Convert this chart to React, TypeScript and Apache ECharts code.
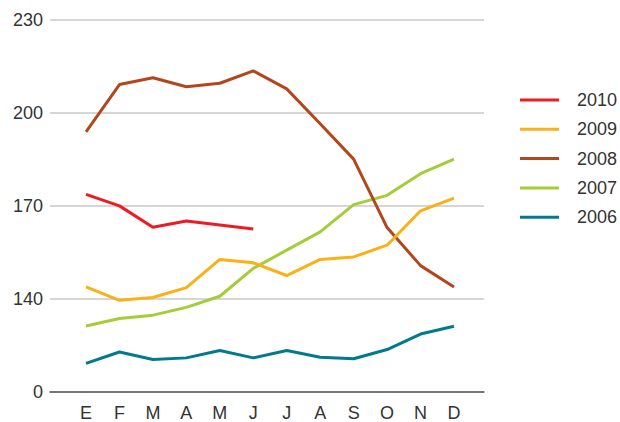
import React, { useEffect, useRef } from "react";
import * as echarts from "echarts";

const months = ["E", "F", "M", "A", "M", "J", "J", "A", "S", "O", "N", "D"];
const yTickLabels = ["0", "140", "170", "200", "230"];
const axisBase = 110; // value shown as "0" (axis break)

const s2010 = [173.5, 169.8, 162.9, 164.9, 163.6, 162.3, null, null, null, null, null, null];
const s2009 = [143.6, 139.3, 140.2, 143.4, 152.5, 151.4, 147.3, 152.5, 153.3, 157.1, 168.2, 172.3];
const s2008 = [193.7, 209.0, 211.2, 208.3, 209.4, 213.4, 207.6, 196.3, 184.9, 162.8, 150.5, 143.6];
const s2007 = [131.0, 133.4, 134.5, 137.0, 140.6, 149.6, 155.5, 161.4, 170.2, 173.2, 180.2, 184.9];
const s2006 = [118.9, 122.6, 120.2, 120.7, 123.1, 120.7, 123.1, 120.9, 120.4, 123.4, 128.4, 130.9];

const seriesNames = ["2010", "2009", "2008", "2007", "2006"];
const seriesData = [s2010, s2009, s2008, s2007, s2006];
const seriesColors = ["#ED1C24", "#FBB017", "#B2461C", "#A5CD39", "#007A8C"];

const FONT = "'Liberation Sans', Arial, sans-serif";

export default function App() {
  const ref = useRef<HTMLDivElement>(null);
  useEffect(() => {
    if (!ref.current) return;
    const chart = echarts.init(ref.current, null, { renderer: "svg" });
    const top = 19.5;
    const bottom = 30;
    chart.setOption({
      animation: false,
      backgroundColor: "#ffffff",
      textStyle: { fontFamily: FONT },
      grid: [
        { left: 50, right: 136, top, bottom },
        { left: 86, right: 166, top, bottom },
      ],
      legend: {
        orient: "vertical",
        left: 520,
        top: 89,
        padding: 0,
        itemWidth: 39,
        itemHeight: 3,
        itemGap: 7.3,
        icon: "rect",
        data: seriesNames,
        textStyle: {
          fontFamily: FONT,
          fontSize: 18,
          color: "#333333",
          lineHeight: 22,
          padding: [0, 0, 0, 13],
        },
      },
      xAxis: [
        {
          gridIndex: 0,
          type: "value",
          min: 0,
          max: 1,
          show: true,
          axisLine: { show: true, lineStyle: { color: "#555555", width: 1.5 } },
          axisTick: { show: false },
          axisLabel: { show: false },
          splitLine: { show: false },
        },
        {
          gridIndex: 1,
          type: "category",
          data: months,
          boundaryGap: false,
          axisLine: { show: false },
          axisTick: { show: false },
          splitLine: { show: false },
          axisLabel: {
            fontFamily: FONT,
            fontSize: 18,
            color: "#333333",
            margin: 13,
          },
        },
      ],
      yAxis: [
        {
          gridIndex: 0,
          type: "value",
          min: 0,
          max: 120,
          interval: 30,
          axisLine: { show: false },
          axisTick: { show: false },
          splitLine: { show: true, lineStyle: { color: "#C8C8C8", width: 1.5 } },
          axisLabel: {
            fontFamily: FONT,
            fontSize: 18,
            color: "#333333",
            margin: 7,
            formatter: (v: number) => yTickLabels[Math.round(v / 30)] ?? "",
          },
        },
        {
          gridIndex: 1,
          type: "value",
          min: 0,
          max: 120,
          interval: 30,
          show: false,
        },
      ],
      series: seriesNames.map((name, i) => ({
        name,
        type: "line",
        xAxisIndex: 1,
        yAxisIndex: 1,
        data: seriesData[i].map((v) => (v == null ? null : v - axisBase)),
        showSymbol: false,
        symbol: "none",
        color: seriesColors[i],
        lineStyle: { color: seriesColors[i], width: 3 },
        z: 10 - i,
      })),
    });
    return () => chart.dispose();
  }, []);
  return <div ref={ref} style={{ width: 620, height: 422, position: "absolute", left: 0, top: 0 }} />;
}
